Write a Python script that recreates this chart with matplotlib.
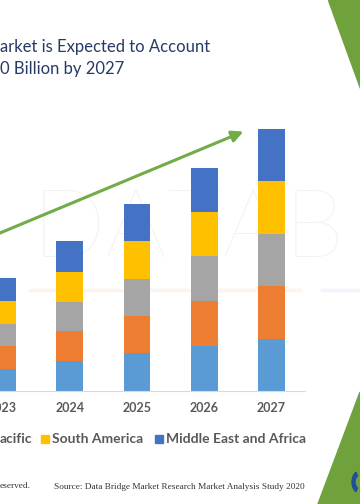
import matplotlib
matplotlib.use("Agg")
import matplotlib.pyplot as plt
import numpy as np
from matplotlib.patches import Polygon, FancyArrowPatch, Wedge

W, H = 360, 504

years = ["2023", "2024", "2025", "2026", "2027"]
regions = ["North America", "Europe", "Asia-Pacific", "South America", "Middle East and Africa"]
north_america = [3.0, 4.0, 5.1, 6.0, 7.0]
europe = [3.0, 4.0, 4.9, 6.0, 7.0]
asia_pacific = [3.0, 3.9, 5.0, 6.0, 7.0]
south_america = [3.0, 4.0, 5.0, 5.9, 7.0]
middle_east_africa = [3.1, 4.1, 5.0, 5.9, 7.0]
series = [north_america, europe, asia_pacific, south_america, middle_east_africa]
colors = ["#5B9BD5", "#ED7D31", "#A5A5A5", "#FFC000", "#4472C4"]

# visible parts of the (cropped) texts
title_line1 = "arket is Expected to Account"
title_line2 = "0 Billion by 2027"
legend_cut = "acific"
source_text = "Source: Data Bridge Market Research Market Analysis Study 2020"
rights_text = "eserved."
watermark = "DATAB"


def fx(x):
    return x / W


def fy(y):
    return 1 - y / H


fig = plt.figure(figsize=(3.6, 5.04), dpi=100)
fig.patch.set_facecolor("white")

# watermark (behind everything)
fig.text(fx(32), fy(257), watermark, fontsize=70, family="Lato", fontweight="light",
         color="#F3F3F3", ha="left", va="baseline", zorder=-5)
fig.add_artist(plt.Line2D([fx(30), fx(300)], [fy(290), fy(290)], color="#FEF4EE", lw=2.5, zorder=-5))
fig.add_artist(plt.Line2D([fx(322), fx(360)], [fy(290), fy(290)], color="#F1F5FB", lw=2.5, zorder=-5))

# axes mapping: center px = 2.5 + 67.25 * i
pitch = 67.25
c0 = 2.5
xmin, xmax = -1.5, 4.5
left_px = c0 + pitch * xmin
right_px = c0 + pitch * xmax
base_px, top_px = 391, 100
ax = fig.add_axes([fx(left_px), fy(base_px), (right_px - left_px) / W, (base_px - top_px) / H])
ax.set_zorder(1)
ax.set_facecolor("none")
ax.set_xlim(xmin, xmax)
ax.set_ylim(0, (base_px - top_px) / 7.5)

x = np.arange(len(years))
bottom = np.zeros(len(years))
for vals, col, name in zip(series, colors, regions):
    ax.bar(x, vals, width=0.40, bottom=bottom, color=col, label=name, zorder=2)
    bottom += np.array(vals)

for s in ["top", "left", "right"]:
    ax.spines[s].set_visible(False)
ax.spines["bottom"].set_color("#D9D9D9")
ax.spines["bottom"].set_linewidth(0.8)
ax.set_yticks([])
ax.set_xticks(x)
ax.set_xticklabels(years, fontsize=9, fontweight="bold", color="#595959", family="Lato")
ax.tick_params(axis="x", length=0, pad=8)

# arrow
arrow = FancyArrowPatch((fx(-30), fy(245.5)), (fx(246), fy(130.5)), transform=fig.transFigure,
                        arrowstyle="-|>", mutation_scale=17, lw=2.2, color="#70AD47", zorder=5)
fig.add_artist(arrow)

# title
fig.text(fx(0), fy(47), title_line1, fontsize=12, family="Lato", color="#263A66",
         ha="left", va="center")
fig.text(fx(0), fy(69), title_line2, fontsize=12, family="Lato", color="#263A66",
         ha="left", va="center")

# legend (manual, cropped on the left)
leg_y = fy(439)
fig.text(fx(0), leg_y, legend_cut, fontsize=10, fontweight="bold", family="Lato",
         color="#595959", ha="left", va="center")
sq = 8
for xs, col, lab in [(41, colors[3], regions[3]), (155, colors[4], regions[4])]:
    fig.add_artist(plt.Rectangle((fx(xs), fy(439 + sq / 2)), sq / W, sq / H,
                                 transform=fig.transFigure, color=col))
    fig.text(fx(xs + 11), leg_y, lab, fontsize=10, fontweight="bold", family="Lato",
             color="#595959", ha="left", va="center")

# footer
fig.text(fx(0), fy(486), rights_text, fontsize=6.7, family="Liberation Serif",
         color="#333333", ha="left", va="center")
fig.text(fx(54), fy(487), source_text, fontsize=6.7, family="Liberation Serif",
         color="#333333", ha="left", va="center")

# green corner shapes
green = "#6FA23C"
fig.add_artist(Polygon([(fx(328), fy(0)), (fx(360), fy(0)), (fx(360), fy(88))],
                       closed=True, transform=fig.transFigure, color=green, zorder=3))
fig.add_artist(Polygon([(fx(360), fy(392)), (fx(318), fy(504)), (fx(360), fy(504))],
                       closed=True, transform=fig.transFigure, color=green, zorder=3))
fig.add_artist(Wedge((fx(360), fy(482)), 8 / W, 120, 240, width=3 / W,
                     transform=fig.transFigure, color="#1F4E9A", zorder=4))

fig.savefig("out.png", dpi=100, facecolor="white")
